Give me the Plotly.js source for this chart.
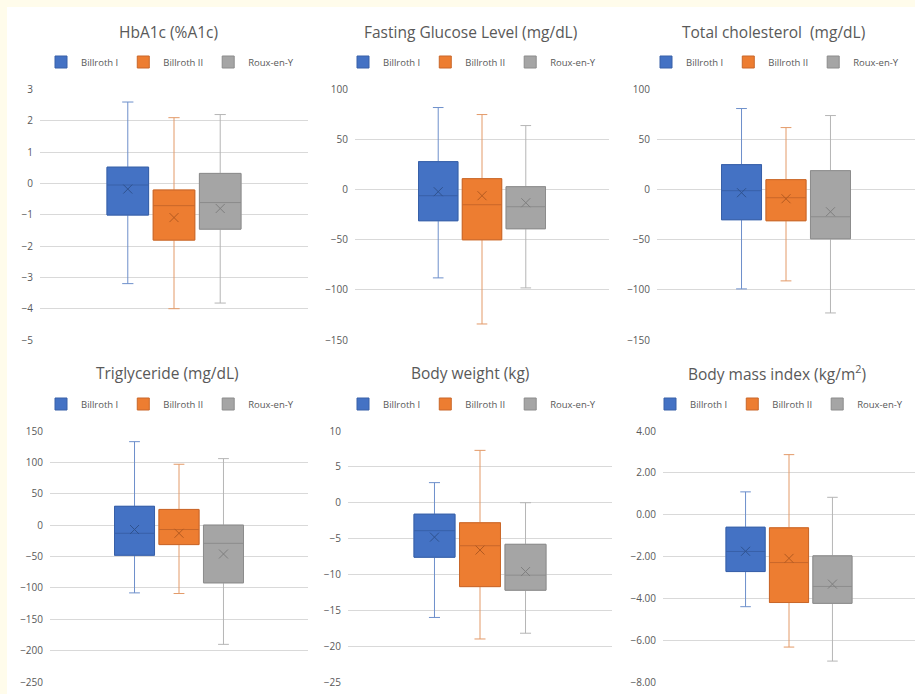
<!DOCTYPE html>
<html>
<head>
<meta charset="utf-8">
<script src="https://cdn.plot.ly/plotly-3.0.1.min.js"></script>
<style>html,body{margin:0;padding:0;background:#FFFCEB;}#chart{width:915px;height:694px;}</style>
</head>
<body>
<div id="chart"></div>
<script>
// ---- Data ----
const groups = ['Billroth I', 'Billroth II', 'Roux-en-Y'];
const panelTitles = ['HbA1c (%A1c)', 'Fasting Glucose Level (mg/dL)', 'Total cholesterol\u00a0 (mg/dL)',
                     'Triglyceride (mg/dL)', 'Body weight (kg)', 'Body mass index (kg/m<sup>2</sup>)'];

// HbA1c
const hba1cMin    = [-3.2, -4.0, -3.82];
const hba1cQ1     = [-1.01, -1.81, -1.46];
const hba1cMedian = [-0.05, -0.71, -0.61];
const hba1cQ3     = [0.52, -0.21, 0.32];
const hba1cMax    = [2.6, 2.1, 2.2];
const hba1cMean   = [-0.18, -1.09, -0.8];
// Fasting glucose
const glucoseMin    = [-88, -134, -98];
const glucoseQ1     = [-31, -50, -39];
const glucoseMedian = [-6, -15, -17];
const glucoseQ3     = [28, 11, 3];
const glucoseMax    = [82, 75, 64];
const glucoseMean   = [-2, -6, -13];
// Total cholesterol
const cholMin    = [-99, -91, -123];
const cholQ1     = [-30, -31, -49];
const cholMedian = [-1, -8, -27];
const cholQ3     = [25, 10, 19];
const cholMax    = [81, 62, 74];
const cholMean   = [-3, -9, -22];
// Triglyceride
const tgMin    = [-108, -109, -190];
const tgQ1     = [-48, -31, -92];
const tgMedian = [-13, -7, -29];
const tgQ3     = [30, 25, 0];
const tgMax    = [133, 97, 106];
const tgMean   = [-7, -13, -46];
// Body weight
const bwMin    = [-16, -19, -18.2];
const bwQ1     = [-7.6, -11.7, -12.2];
const bwMedian = [-3.9, -6.0, -10.1];
const bwQ3     = [-1.6, -2.8, -5.8];
const bwMax    = [2.8, 7.3, 0];
const bwMean   = [-4.8, -6.6, -9.6];
// Body mass index
const bmiMin    = [-4.4, -6.33, -7.0];
const bmiQ1     = [-2.72, -4.2, -4.24];
const bmiMedian = [-1.76, -2.29, -3.43];
const bmiQ3     = [-0.6, -0.63, -1.97];
const bmiMax    = [1.09, 2.87, 0.83];
const bmiMean   = [-1.75, -2.09, -3.32];

// Y-axis tick settings
const yRanges = [[-5, 3], [-150, 100], [-150, 100], [-250, 150], [-25, 10], [-8, 4]];
const yDtick  = [1, 50, 50, 50, 5, 2];
const yFormat = ['', '', '', '', '', '.2f'];

// ---- Styling ----
const fillColors    = ['#4472C4', '#ED7D31', '#A5A5A5'];
const boxLineColors = ['#3860A8', '#C9672A', '#8C8C8C'];
const whiskerColors = ['#6D8FCB', '#E39A68', '#B5B5B5'];
const meanColors    = ['#2F528F', '#B35A20', '#7F7F7F'];

const panels = [
  [hba1cMin, hba1cQ1, hba1cMedian, hba1cQ3, hba1cMax, hba1cMean],
  [glucoseMin, glucoseQ1, glucoseMedian, glucoseQ3, glucoseMax, glucoseMean],
  [cholMin, cholQ1, cholMedian, cholQ3, cholMax, cholMean],
  [tgMin, tgQ1, tgMedian, tgQ3, tgMax, tgMean],
  [bwMin, bwQ1, bwMedian, bwQ3, bwMax, bwMean],
  [bmiMin, bmiQ1, bmiMedian, bmiQ3, bmiMax, bmiMean]
];

const W = 915, H = 694;
// plot areas in pixels [x0, x1, yTop, yBottom]
const areas = [
  [40, 308, 89.5, 340], [355, 609, 89.5, 340], [657, 915, 89.5, 340],
  [50, 308, 431, 682], [348, 612, 431, 682], [663, 915, 431, 682]
];
const titlePos  = [[168, 32], [470, 32], [773, 32], [167, 373], [470, 373], [777, 373]];
const legendPos = [[170, 62], [472, 62], [775, 62], [170, 404], [472, 404], [779, 404]];

const textColor = '#595959';
const fontFam = '"Open Sans", "Noto Sans", sans-serif';

const traces = [];
const layout = {
  width: W, height: H,
  margin: {l: 0, r: 0, t: 0, b: 0},
  paper_bgcolor: '#FFFCEB',
  plot_bgcolor: 'rgba(0,0,0,0)',
  showlegend: true,
  boxmode: 'overlay',
  font: {family: fontFam, color: textColor},
  annotations: [],
  shapes: [{type: 'rect', xref: 'paper', yref: 'paper', layer: 'below',
            x0: 7 / W, x1: 1, y0: 0, y1: 1 - 7 / H,
            fillcolor: '#FFFFFF', line: {width: 0}}]
};

panels.forEach((p, i) => {
  const n = i + 1;
  const xa = 'x' + (n === 1 ? '' : n), ya = 'y' + (n === 1 ? '' : n);
  const legName = 'legend' + (n === 1 ? '' : n);
  const [mn, q1, md, q3, mx, mean] = p;
  groups.forEach((g, k) => {
    const xpos = [k - 1];
    // whiskers + box (lighter line)
    traces.push({
      type: 'box', xaxis: xa, yaxis: ya, x: xpos,
      q1: [q1[k]], median: [md[k]], q3: [q3[k]], lowerfence: [mn[k]], upperfence: [mx[k]],
      width: 0.9, whiskerwidth: 0.27, fillcolor: fillColors[k],
      line: {color: whiskerColors[k], width: 1},
      showlegend: false, hoverinfo: 'skip', legend: legName
    });
    // box body with darker outline and median
    traces.push({
      type: 'box', xaxis: xa, yaxis: ya, x: xpos, name: g,
      q1: [q1[k]], median: [md[k]], q3: [q3[k]], lowerfence: [q1[k]], upperfence: [q3[k]],
      width: 0.9, whiskerwidth: 0, fillcolor: fillColors[k],
      line: {color: boxLineColors[k], width: 1},
      showlegend: true, legend: legName
    });
    // mean marker
    traces.push({
      type: 'scatter', mode: 'markers', xaxis: xa, yaxis: ya, x: xpos, y: [mean[k]],
      marker: {symbol: 'x-thin', size: 9, line: {color: meanColors[k], width: 1}},
      showlegend: false, hoverinfo: 'y'
    });
  });

  const a = areas[i];
  layout['xaxis' + (n === 1 ? '' : n)] = {
    domain: [a[0] / W, a[1] / W], range: [-2.9, 2.9], anchor: ya,
    showticklabels: false, showgrid: false, zeroline: false, fixedrange: true,
    showline: false
  };
  layout['yaxis' + (n === 1 ? '' : n)] = {
    domain: [(H - a[3]) / H, (H - a[2]) / H], range: yRanges[i], anchor: xa,
    dtick: yDtick[i], tick0: 0, tickformat: yFormat[i],
    showgrid: true, gridcolor: '#D9D9D9', gridwidth: 1, zeroline: false,
    ticks: '', ticklabelstandoff: 6,
    tickfont: {size: 10, color: textColor, family: fontFam}
  };
  layout.annotations.push({
    text: panelTitles[i], xref: 'paper', yref: 'paper',
    x: titlePos[i][0] / W, y: (H - titlePos[i][1]) / H,
    xanchor: 'center', yanchor: 'middle', showarrow: false,
    font: {size: 15.5, color: textColor, family: fontFam}
  });
  layout[legName] = {
    orientation: 'h', xref: 'paper', yref: 'paper',
    x: legendPos[i][0] / W, y: (H - legendPos[i][1]) / H,
    xanchor: 'center', yanchor: 'middle',
    font: {size: 9.5, color: textColor, family: fontFam},
    bgcolor: 'rgba(0,0,0,0)', itemwidth: 30, tracegroupgap: 0
  };
});

Plotly.newPlot('chart', traces, layout, {displayModeBar: false, staticPlot: true});
</script>
</body>
</html>
